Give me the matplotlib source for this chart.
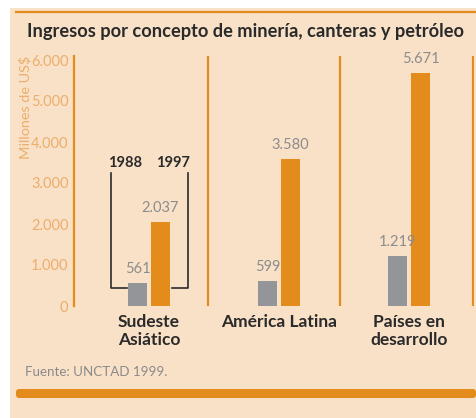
import matplotlib
matplotlib.use("Agg")
import matplotlib.pyplot as plt
from matplotlib.patches import Rectangle, FancyBboxPatch
from matplotlib import font_manager

categories = ["Sudeste\nAsiático", "América Latina", "Países en\ndesarrollo"]
v1988 = [561, 599, 1219]
v1997 = [2037, 3580, 5671]
labels1988 = ["561", "599", "1.219"]
labels1997 = ["2.037", "3.580", "5.671"]
yticks = [0, 1000, 2000, 3000, 4000, 5000, 6000]
yticklabels = ["0", "1.000", "2.000", "3.000", "4.000", "5.000", "6.000"]
title = "Ingresos por concepto de minería, canteras y petróleo"
source = "Fuente: UNCTAD 1999."

names = {f.name for f in font_manager.fontManager.ttflist}
FONT = "Lato" if "Lato" in names else "DejaVu Sans"
plt.rcParams['font.family'] = [FONT, 'DejaVu Sans']

W, H = 476, 418
BG = "#f9e1c8"
ORANGE = "#e38c1b"
GREY = "#939598"
TICKC = "#ecae6a"
VALC = "#8c8c8c"
DARK = "#2a2a2a"

fig = plt.figure(figsize=(W/100, H/100), dpi=100)
fig.patch.set_facecolor("white")

def fx(px): return px / W
def fy(py): return 1 - py / H

bgax = fig.add_axes([0, 0, 1, 1], zorder=0)
bgax.set_axis_off()
bgax.set_xlim(0, W)
bgax.set_ylim(H, 0)
bgax.add_patch(Rectangle((10, 8), W - 10, H - 8, facecolor=BG, edgecolor="none"))
bgax.plot([16, W], [12, 12], color=ORANGE, lw=1.6)
bgax.add_patch(FancyBboxPatch((16, 389), W - 16, 9, boxstyle="round,pad=0,rounding_size=3",
                              facecolor=ORANGE, edgecolor="none"))

renderer = fig.canvas.get_renderer()

def fit(t, target_px, dim="width"):
    bb = t.get_window_extent(renderer=renderer)
    cur = bb.width if dim == "width" else bb.height
    t.set_fontsize(t.get_fontsize() * target_px / cur)

tt = fig.text(fx(27), fy(31), title, fontsize=12.5, color=DARK, ha="left", va="center",
              fontweight="bold")
fit(tt, 438)
st = fig.text(fx(25), fy(372), source, fontsize=8, color="#8a8a8a", ha="left", va="center")
fit(st, 142)

# axes mapping
y0px, scale = 306, 0.041
ytop = 6100
x0px, sp = 149, 130
left_px, right_px = 74, 474
ax = fig.add_axes([fx(left_px), fy(y0px), (right_px - left_px) / W, ytop * scale / H], zorder=2)
ax.set_facecolor("none")
ax.set_xlim((left_px - x0px) / sp, (right_px - x0px) / sp)
ax.set_ylim(0, ytop)
for s in ["top", "right", "bottom"]:
    ax.spines[s].set_visible(False)
ax.spines["left"].set_color(ORANGE)
ax.spines["left"].set_linewidth(1.6)
ax.set_yticks(yticks)
ax.set_yticklabels(yticklabels)
ax.tick_params(axis="y", length=0, pad=4, labelsize=10.5, labelcolor=TICKC)
ax.set_xticks([])
for xs in [(208 - x0px) / sp, (340 - x0px) / sp, (473 - x0px) / sp]:
    ax.axvline(xs, color=ORANGE, lw=1.6)

bw = 19 / sp
off = 11.5 / sp
xs = list(range(len(categories)))
ax.bar([x - off for x in xs], v1988, width=bw, color=GREY, edgecolor="none")
ax.bar([x + off for x in xs], v1997, width=bw, color=ORANGE, edgecolor="none")
lab_off = 14 / scale
for i, x in enumerate(xs):
    ax.text(x - off, v1988[i] + lab_off, labels1988[i], ha="center", va="center",
            fontsize=10.5, color=VALC)
    ax.text(x + off, v1997[i] + lab_off, labels1997[i], ha="center", va="center",
            fontsize=10.5, color=VALC)
    ax.text(x, -200, categories[i], ha="center", va="top", fontsize=12.5,
            fontweight="bold", color=DARK, linespacing=1.15)

# bracket legend around first group
bl = (111 - x0px) / sp
br = (188 - x0px) / sp
ytopb = (y0px - 173) / scale
ylb = (y0px - 288) / scale
ax.plot([(127 - x0px) / sp, bl, bl], [ylb, ylb, ytopb], color=DARK, lw=1.2, clip_on=False)
ax.plot([(172 - x0px) / sp, br, br], [ylb, ylb, ytopb], color=DARK, lw=1.2, clip_on=False)
ax.text((125 - x0px) / sp, (y0px - 163) / scale, "1988", ha="center", va="center",
        fontsize=10.5, fontweight="bold", color=DARK)
ax.text((173 - x0px) / sp, (y0px - 163) / scale, "1997", ha="center", va="center",
        fontsize=10.5, fontweight="bold", color=DARK)

yl = fig.text(fx(25), fy(107), "Millones de US$", rotation=90, ha="center", va="center",
              fontsize=8.5, color=TICKC)
fit(yl, 104, dim="height")

fig.savefig("out.png", dpi=100, facecolor=fig.get_facecolor())
